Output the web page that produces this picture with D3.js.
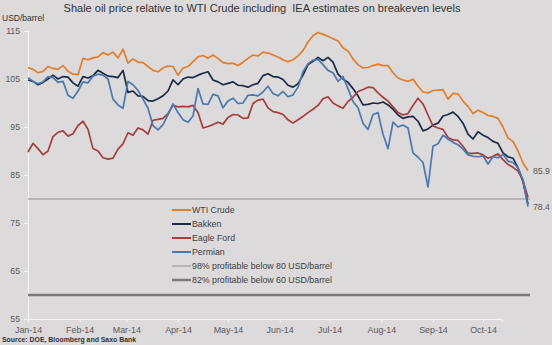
<!DOCTYPE html>
<html>
<head>
<meta charset="utf-8">
<script src="https://cdn.jsdelivr.net/npm/d3@7/dist/d3.min.js"></script>
<style>
  body { margin: 0; background: #dcdadb; }
  svg { display: block; font-family: "Liberation Sans", Arial, sans-serif; }
</style>
</head>
<body>
<div id="chart"></div>
<script>
// sample dates (every third day of 2014)
var dates = ["2014-01-01","2014-01-04","2014-01-07","2014-01-10","2014-01-13","2014-01-16","2014-01-19","2014-01-22","2014-01-25","2014-01-28",
  "2014-01-31","2014-02-03","2014-02-06","2014-02-09","2014-02-12","2014-02-15","2014-02-18","2014-02-21","2014-02-24","2014-02-27",
  "2014-03-02","2014-03-05","2014-03-08","2014-03-11","2014-03-14","2014-03-17","2014-03-20","2014-03-23","2014-03-26","2014-03-29",
  "2014-04-01","2014-04-04","2014-04-07","2014-04-10","2014-04-13","2014-04-16","2014-04-19","2014-04-22","2014-04-25","2014-04-28",
  "2014-05-01","2014-05-04","2014-05-07","2014-05-10","2014-05-13","2014-05-16","2014-05-19","2014-05-22","2014-05-25","2014-05-28",
  "2014-05-31","2014-06-03","2014-06-06","2014-06-09","2014-06-12","2014-06-15","2014-06-18","2014-06-21","2014-06-24","2014-06-27",
  "2014-06-30","2014-07-03","2014-07-06","2014-07-09","2014-07-12","2014-07-15","2014-07-18","2014-07-21","2014-07-24","2014-07-27",
  "2014-07-30","2014-08-02","2014-08-05","2014-08-08","2014-08-11","2014-08-14","2014-08-17","2014-08-20","2014-08-23","2014-08-26",
  "2014-08-29","2014-09-01","2014-09-04","2014-09-07","2014-09-10","2014-09-13","2014-09-16","2014-09-19","2014-09-22","2014-09-25",
  "2014-09-28","2014-10-01","2014-10-04","2014-10-07","2014-10-10","2014-10-13","2014-10-16","2014-10-19","2014-10-22","2014-10-25",
  "2014-10-28"];

var wti = [107.4,107.0,106.3,106.6,107.6,107.2,107.0,107.8,106.6,106.0,
  105.9,109.3,109.0,109.4,109.6,110.5,110.0,110.6,109.4,111.2,
  108.3,109.2,108.5,108.4,107.6,106.8,106.5,107.3,107.7,107.6,
  105.8,107.3,107.6,108.6,109.6,109.9,109.3,110.0,109.3,108.4,
  108.2,108.3,107.8,108.5,109.3,110.0,109.8,110.6,110.4,110.0,
  109.6,109.0,108.6,109.0,109.8,110.9,112.7,114.0,114.7,114.3,
  113.9,113.4,112.9,111.5,110.8,109.2,108.0,107.3,107.4,107.8,
  108.1,107.8,107.8,106.3,105.2,104.8,104.5,105.0,103.5,102.3,
  102.1,102.6,102.7,102.8,100.8,102.0,101.9,100.4,99.3,97.8,
  98.5,98.0,97.4,97.2,96.8,95.0,92.7,92.0,90.0,87.5,
  85.9];

var bakken = [104.8,104.5,103.8,104.3,105.0,105.8,105.0,105.5,105.4,104.2,
  103.5,105.5,105.2,105.7,106.8,106.2,105.6,105.5,105.3,106.8,
  102.2,102.5,101.5,101.4,100.5,100.4,100.9,101.5,102.5,104.8,
  103.8,105.0,105.4,105.3,105.8,106.2,106.5,104.8,104.4,103.8,
  104.1,104.4,103.7,103.6,103.3,103.8,104.1,105.7,106.1,105.5,
  105.4,104.9,103.7,103.3,104.0,105.8,108.0,108.7,109.5,108.8,
  109.5,108.5,106.0,105.0,104.3,103.0,101.5,99.6,99.7,100.0,
  99.9,100.2,99.6,98.7,97.5,96.8,97.1,97.2,96.2,94.2,
  94.6,95.4,95.8,97.3,97.6,98.1,97.2,95.8,93.5,92.5,
  94.0,93.3,92.8,92.0,91.6,89.6,88.8,88.5,86.5,83.6,
  78.9];

var eagleFord = [89.8,91.6,90.5,89.2,90.0,93.0,93.9,94.2,93.1,93.6,
  95.3,96.2,94.5,90.5,90.0,88.6,88.3,88.5,90.4,91.5,
  93.8,93.3,94.8,94.4,93.5,96.4,96.6,96.8,97.8,99.5,
  99.2,99.3,99.2,99.5,98.0,94.8,95.1,95.5,96.0,95.6,
  97.0,97.6,97.5,96.8,96.9,99.9,100.6,100.8,99.0,98.2,
  98.0,97.6,96.5,95.8,96.5,97.2,98.0,98.7,99.5,100.9,
  101.3,100.0,99.4,98.9,100.3,101.2,102.4,102.8,103.3,103.2,
  102.1,101.2,100.4,99.2,98.0,97.5,97.8,99.5,101.0,99.8,
  97.5,95.2,94.8,94.5,92.8,92.3,92.2,91.0,89.5,89.5,
  89.6,89.2,88.5,88.9,89.4,88.2,87.2,86.6,85.8,83.9,
  80.3];

var permian = [105.3,104.5,104.0,104.4,105.5,105.3,104.3,104.5,101.6,101.0,
  102.5,104.4,104.2,105.6,106.0,105.8,105.0,100.8,99.6,98.9,
  104.5,103.8,102.6,100.8,98.9,95.3,94.4,95.5,97.6,99.8,
  98.0,96.5,96.0,97.3,103.0,99.8,99.7,101.8,101.5,99.0,
  100.4,101.0,99.9,100.0,101.6,101.7,101.5,102.3,103.5,102.0,
  101.5,102.4,101.3,101.7,103.3,106.5,108.2,108.9,109.1,108.0,
  106.8,106.3,104.5,105.5,103.0,100.3,99.0,95.8,94.5,97.6,
  98.0,93.5,90.5,96.0,95.0,95.4,94.8,89.6,88.7,87.6,
  82.5,91.0,91.5,93.3,92.5,91.8,91.3,90.4,89.2,88.9,
  88.8,89.0,87.3,88.8,88.6,89.3,87.9,87.6,86.5,84.0,
  78.4];

var seriesNames = ["WTI Crude", "Bakken", "Eagle Ford", "Permian"];
var seriesColors = ["#e27e2c", "#1c2a45", "#a63d3e", "#4b78b0"];
var breakevenLevels = [80, 60];
var breakevenNames = ["98% profitable below 80 USD/barrel", "82% profitable below 60 USD/barrel"];
var yTicks = [55, 65, 75, 85, 95, 105, 115];
var endLabels = [85.9, 78.4];

var width = 552, height = 345;
var parseDate = d3.timeParse("%Y-%m-%d");
var days = dates.map(parseDate);

var svg = d3.select("#chart")
  .append("svg")
    .attr("width", width)
    .attr("height", height);

// scales
var x = d3.scaleTime()
    .domain(d3.extent(days))
    .range([28, 528]);
var y = d3.scaleLinear()
    .domain([55, 115])
    .range([319, 31]);

// title + unit
svg.append("text")
    .attr("x", 262)
    .attr("y", 12)
    .attr("text-anchor", "middle")
    .style("font-size", "11px")
    .style("white-space", "pre")
    .style("fill", "#333")
    .text("Shale oil price relative to WTI Crude including  IEA estimates on breakeven levels");

svg.append("text")
    .attr("x", 2)
    .attr("y", 21)
    .style("font-size", "8.5px")
    .style("fill", "#333")
    .text("USD/barrel");

// y axis
var yAxis = svg.append("g")
    .attr("transform", "translate(28,0)")
    .call(d3.axisLeft(y).tickValues(yTicks).tickSize(4).tickPadding(4));
yAxis.select(".domain").attr("stroke", "#f4f4f4");
yAxis.selectAll(".tick line").attr("stroke", "#f4f4f4");
yAxis.selectAll("text").style("font-size", "8.7px").style("fill", "#595959")
    .style("font-family", "Liberation Sans, Arial, sans-serif");

// x axis (line stops short of the last data date)
var xAxisScale = x.copy()
    .domain([x.domain()[0], x.invert(502)])
    .range([28, 502]);
var xAxis = svg.append("g")
    .attr("transform", "translate(0,319)")
    .call(d3.axisBottom(xAxisScale)
      .ticks(d3.timeMonth.every(1))
      .tickFormat(d3.timeFormat("%b-%y"))
      .tickSize(3).tickPadding(5));
xAxis.select(".domain").attr("stroke", "#f4f4f4");
xAxis.selectAll(".tick line").attr("stroke", "#f4f4f4");
xAxis.selectAll("text").style("font-size", "8.9px").style("fill", "#595959")
    .style("font-family", "Liberation Sans, Arial, sans-serif");

// breakeven lines
var refColors = ["#a8a8a8", "#7a7a7a"];
var refWidths = [1.5, 2.5];
svg.selectAll(".ref")
  .data(breakevenLevels)
  .enter().append("line")
    .attr("class", "ref")
    .attr("x1", 28)
    .attr("x2", 530)
    .attr("y1", function(d) { return y(d); })
    .attr("y2", function(d) { return y(d); })
    .attr("stroke", function(d, i) { return refColors[i]; })
    .attr("stroke-width", function(d, i) { return refWidths[i]; });

// price lines
var allSeries = [wti, bakken, eagleFord, permian];
var line = d3.line()
    .x(function(d, i) { return x(days[i]); })
    .y(function(d) { return y(d); });

svg.selectAll(".series")
  .data(allSeries)
  .enter().append("path")
    .attr("class", "series")
    .attr("d", line)
    .attr("fill", "none")
    .attr("stroke", function(d, i) { return seriesColors[i]; })
    .attr("stroke-width", 1.7)
    .attr("stroke-linejoin", "round");

// last value labels
svg.selectAll(".endlabel")
  .data(endLabels)
  .enter().append("text")
    .attr("class", "endlabel")
    .attr("x", x(days[days.length - 1]) + 5)
    .attr("y", function(d) { return y(d) + 3; })
    .style("font-size", "8.7px")
    .style("fill", "#595959")
    .text(function(d) { return d3.format(".1f")(d); });

// legend
var legendItems = seriesNames.map(function(n, i) {
  return {name: n, color: seriesColors[i], w: 2};
}).concat(breakevenNames.map(function(n, i) {
  return {name: n, color: refColors[i], w: refWidths[i]};
}));

var legend = svg.selectAll(".legend")
  .data(legendItems)
  .enter().append("g")
    .attr("class", "legend")
    .attr("transform", function(d, i) { return "translate(172," + (210 + i * 14) + ")"; });
legend.append("line")
    .attr("x1", 0).attr("x2", 19)
    .attr("stroke", function(d) { return d.color; })
    .attr("stroke-width", function(d) { return d.w; });
legend.append("text")
    .attr("x", 20)
    .attr("y", 3)
    .style("font-size", "8.8px")
    .style("fill", "#404040")
    .text(function(d) { return d.name; });

// source
svg.append("text")
    .attr("x", 2)
    .attr("y", 342)
    .style("font-size", "6.9px")
    .style("font-weight", "bold")
    .style("fill", "#333")
    .text("Source: DOE, Bloomberg and Saxo Bank");
</script>
</body>
</html>
